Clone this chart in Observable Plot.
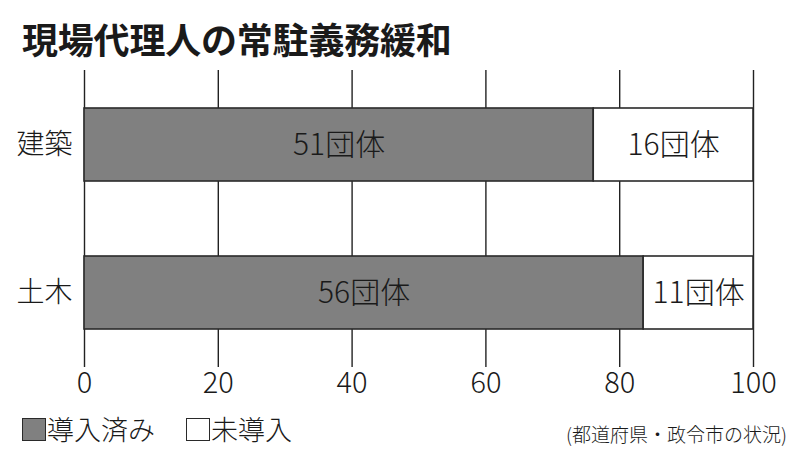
<!DOCTYPE html>
<html>
<head>
<meta charset="utf-8">
<script src="https://cdn.jsdelivr.net/npm/d3@7"></script>
<script src="https://cdn.jsdelivr.net/npm/@observablehq/plot@0.6"></script>
<style>
  html, body { margin: 0; padding: 0; background: #fff; }
  #wrap { position: relative; width: 800px; height: 459px; overflow: hidden; font-family: "Noto Sans CJK JP Light", "Noto Sans CJK JP", sans-serif; font-weight: 300; color: #1a1a1a; }
  #wrap svg { position: absolute; left: 0; top: 0; }
  .title { position: absolute; left: 22px; top: 16px; font-family: "Noto Sans CJK JP", sans-serif; font-size: 36px; font-weight: 700; line-height: 44px; letter-spacing: -0.2px; }
  .legend { position: absolute; left: 22px; top: 410px; font-size: 27px; line-height: 38px; display: flex; align-items: center; }
  .sw { display: inline-block; width: 22px; height: 21px; border: 1.5px solid #2a2a2a; box-sizing: content-box; margin-right: 1px; }
  .item { display: flex; align-items: center; }
  .source { position: absolute; right: 13px; top: 420px; font-size: 19px; line-height: 28px; }
</style>
</head>
<body>
<div id="wrap"></div>
<script>
const categories = ["建築", "土木"];
const statuses = ["導入済み", "未導入"];
const introduced = [51, 56];
const notIntroduced = [16, 11];
const xTicks = [0, 20, 40, 60, 80, 100];
const statusColors = ["#808080", "#ffffff"];

const rows = [
  ...categories.map((c, i) => ({cat: c, status: statuses[0], count: introduced[i]})),
  ...categories.map((c, i) => ({cat: c, status: statuses[1], count: notIntroduced[i]}))
];

const chart = Plot.plot({
  width: 800,
  height: 459,
  marginLeft: 84,
  marginRight: 47,
  marginTop: 70,
  marginBottom: 92,
  style: {fontFamily: "'Noto Sans CJK JP Light', 'Noto Sans CJK JP', sans-serif", fontWeight: 300, background: "transparent", color: "#1a1a1a"},
  x: {domain: [0, 1], label: null},
  y: {domain: categories, paddingInner: 0.508, paddingOuter: 0.256, label: null},
  color: {domain: statuses, range: statusColors},
  marks: [
    Plot.ruleX(xTicks.map(d => d / 100), {stroke: "#222", strokeWidth: 1.4}),
    Plot.barX(rows, Plot.stackX({
      y: "cat", x: "count", fill: "status", z: "status", offset: "normalize",
      stroke: "#2a2a2a", strokeWidth: 1.6
    })),
    Plot.text(rows, Plot.stackX({
      y: "cat", x: "count", z: "status", offset: "normalize",
      text: d => d.count + "団体",
      fontSize: 30, fontWeight: 300, fill: "#1a1a1a", textAnchor: "middle", lineAnchor: "middle"
    })),
    Plot.axisX({ticks: xTicks.map(d => d / 100), tickFormat: d => String(Math.round(d * 100)), tickSize: 0, tickPadding: 5, fontSize: 29, fontWeight: 300, label: null}),
    Plot.axisY({tickSize: 0, tickPadding: 12, fontSize: 28, fontWeight: 300, label: null})
  ]
});

const wrap = document.getElementById("wrap");
wrap.appendChild(chart);

const title = document.createElement("div");
title.className = "title";
title.textContent = "現場代理人の常駐義務緩和";
wrap.appendChild(title);

const legend = document.createElement("div");
legend.className = "legend";
statuses.forEach((s, i) => {
  const item = document.createElement("span");
  item.className = "item";
  if (i > 0) item.style.marginLeft = "31px";
  const sw = document.createElement("span");
  sw.className = "sw";
  sw.style.background = statusColors[i];
  const t = document.createElement("span");
  t.textContent = s;
  item.appendChild(sw);
  item.appendChild(t);
  legend.appendChild(item);
});
wrap.appendChild(legend);

const source = document.createElement("div");
source.className = "source";
source.textContent = "(都道府県・政令市の状況)";
wrap.appendChild(source);
</script>
</body>
</html>
